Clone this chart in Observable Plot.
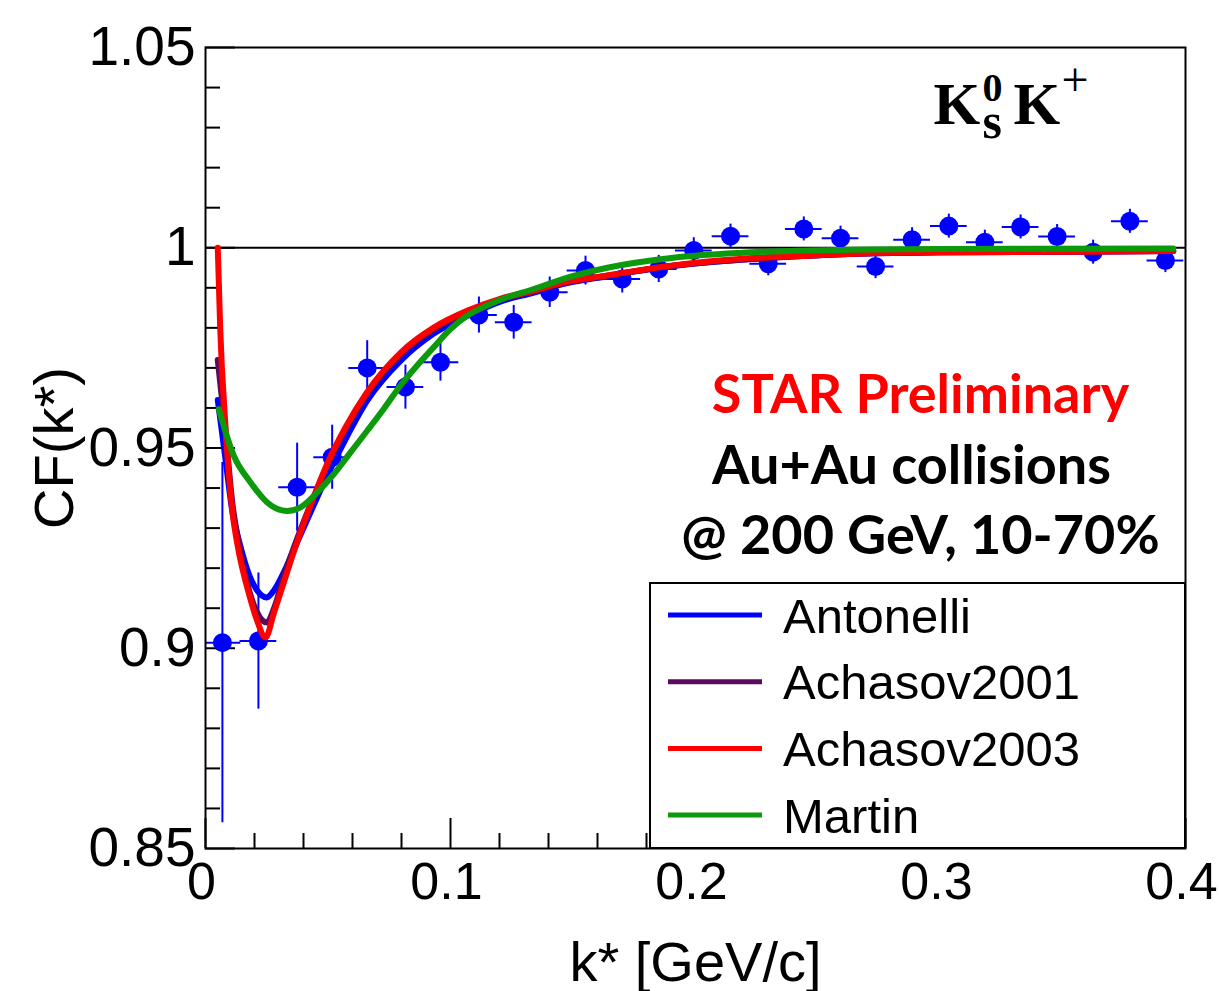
<!DOCTYPE html>
<html><head><meta charset="utf-8">
<script src="https://cdn.jsdelivr.net/npm/d3@7"></script>
<script src="https://cdn.jsdelivr.net/npm/@observablehq/plot@0.6"></script>
<style>html,body{margin:0;padding:0;background:#fff;overflow:hidden} svg{display:block}</style>
</head><body><div id="chart"></div>
<script>
// ---------- data ----------
const kData  = [0.0069, 0.0216, 0.0374, 0.0517, 0.0660, 0.0816, 0.0959, 0.1116, 0.1258, 0.1405, 0.1551, 0.1701, 0.1850, 0.1993, 0.2143, 0.2297, 0.2442, 0.2592, 0.2735, 0.2884, 0.3034, 0.3181, 0.3327, 0.3476, 0.3623, 0.3773, 0.3918];
const cfData = [0.9014, 0.9018, 0.9402, 0.9477, 0.9700, 0.9652, 0.9714, 0.9832, 0.9814, 0.9889, 0.9943, 0.9922, 0.9947, 0.9993, 1.0029, 0.9960, 1.0047, 1.0024, 0.9953, 1.0020, 1.0054, 1.0014, 1.0052, 1.0028, 0.9989, 1.0066, 0.9968];
const cfErr  = [0.045, 0.017, 0.011, 0.008, 0.0068, 0.0055, 0.0047, 0.0045, 0.0042, 0.0038, 0.0036, 0.0035, 0.0034, 0.0032, 0.0030, 0.0030, 0.0030, 0.0030, 0.0030, 0.0030, 0.0030, 0.0030, 0.0030, 0.0030, 0.0030, 0.0030, 0.0030];
const kHalfBin = 0.0075;

const kAntonelli  = [0.005, 0.008, 0.011, 0.014, 0.018, 0.021, 0.025, 0.028, 0.032, 0.036, 0.040, 0.044, 0.050, 0.057, 0.066, 0.080, 0.093, 0.107, 0.120, 0.134, 0.145, 0.164, 0.191, 0.218, 0.246, 0.273, 0.300, 0.350, 0.395];
const cfAntonelli = [0.962, 0.948, 0.934, 0.926, 0.918, 0.9145, 0.9127, 0.9145, 0.919, 0.9245, 0.930, 0.9355, 0.9435, 0.952, 0.9618, 0.972, 0.9785, 0.983, 0.9865, 0.9888, 0.9908, 0.9929, 0.9955, 0.997, 0.998, 0.9986, 0.9989, 0.999, 0.9992];

const kAchasov2001  = [0.005, 0.008, 0.011, 0.014, 0.018, 0.021, 0.025, 0.028, 0.032, 0.036, 0.040, 0.044, 0.050, 0.057, 0.066, 0.080, 0.093, 0.107, 0.120, 0.134, 0.145, 0.164, 0.191, 0.218, 0.246, 0.273, 0.300, 0.350, 0.395];
const cfAchasov2001 = [0.972, 0.955, 0.936, 0.925, 0.914, 0.909, 0.9064, 0.910, 0.918, 0.925, 0.9315, 0.9375, 0.946, 0.9545, 0.9635, 0.9735, 0.9795, 0.984, 0.987, 0.9891, 0.991, 0.993, 0.9955, 0.997, 0.998, 0.9986, 0.9989, 0.999, 0.9992];

const kAchasov2003  = [0.005, 0.0055, 0.006, 0.008, 0.011, 0.013, 0.018, 0.021, 0.0245, 0.028, 0.032, 0.036, 0.040, 0.044, 0.050, 0.057, 0.066, 0.080, 0.093, 0.107, 0.120, 0.134, 0.145, 0.164, 0.191, 0.218, 0.246, 0.273, 0.300, 0.350, 0.395];
const cfAchasov2003 = [1.000, 0.990, 0.980, 0.957, 0.934, 0.926, 0.913, 0.907, 0.9027, 0.909, 0.9165, 0.924, 0.931, 0.9375, 0.9465, 0.955, 0.964, 0.974, 0.980, 0.9843, 0.9872, 0.9893, 0.9912, 0.9931, 0.9956, 0.9972, 0.998, 0.9987, 0.9989, 0.999, 0.9992];

const kMartin  = [0.0054, 0.0116, 0.0184, 0.0252, 0.0333, 0.0388, 0.0456, 0.0524, 0.0592, 0.066, 0.0728, 0.0796, 0.0864, 0.0932, 0.100, 0.1068, 0.1136, 0.1204, 0.134, 0.1449, 0.164, 0.191, 0.218, 0.246, 0.300, 0.395];
const cfMartin = [0.9597, 0.948, 0.9414, 0.9364, 0.9343, 0.9352, 0.9389, 0.9435, 0.9489, 0.9543, 0.9598, 0.9656, 0.9706, 0.9752, 0.9797, 0.9830, 0.9852, 0.9870, 0.9897, 0.9920, 0.9950, 0.9975, 0.9987, 0.9993, 0.9997, 0.9998];

const modelNames  = ["Antonelli", "Achasov2001", "Achasov2003", "Martin"];
const modelColors = ["#0000ff", "#5c0a5c", "#ff0000", "#0c990c"];

const xMajorTicks = [0, 0.1, 0.2, 0.3, 0.4];
const xMinorTicks = [0.02, 0.04, 0.06, 0.08, 0.12, 0.14, 0.16, 0.18, 0.22, 0.24, 0.26, 0.28, 0.32, 0.34, 0.36, 0.38];
const yMajorTicks = [0.85, 0.9, 0.95, 1, 1.05];
const yMinorTicks = [0.86, 0.87, 0.88, 0.89, 0.91, 0.92, 0.93, 0.94, 0.96, 0.97, 0.98, 0.99, 1.01, 1.02, 1.03, 1.04];

const xTitle = "k* [GeV/c]";
const yTitle = "CF(k*)";

// ---------- build ----------
const W = 1219, H = 991, mL = 205, mR = 34, mT = 47, mB = 143;
const plotW = W - mL - mR, plotH = H - mT - mB;

const points = kData.map((k, i) => ({k, cf: cfData[i], err: cfErr[i]}));
const curves = [
  {name: modelNames[0], k: kAntonelli, cf: cfAntonelli},
  {name: modelNames[1], k: kAchasov2001, cf: cfAchasov2001},
  {name: modelNames[2], k: kAchasov2003, cf: cfAchasov2003},
  {name: modelNames[3], k: kMartin, cf: cfMartin}
];
const curveRows = curves.flatMap(c => c.k.map((k, i) => ({name: c.name, k, cf: c.cf[i]})));

const sans = "'Liberation Sans', Arial, Helvetica, sans-serif";
const serif = "'Liberation Serif', 'Times New Roman', serif";
const bold = "Lato, 'Open Sans', sans-serif";

const ann = (txt, dx, dy, fill) => Plot.text([txt], {text: d => d, frameAnchor: "top-right", textAnchor: "middle", lineAnchor: "middle", dx, dy, fontSize: 54, fontWeight: "bold", fontFamily: bold, fill});
const sym = (txt, dx, dy, size, weight) => Plot.text([txt], {text: d => d, frameAnchor: "top-right", textAnchor: "start", lineAnchor: "bottom", dx, dy, fontSize: size, fontWeight: weight, fontFamily: serif, fill: "black"});

const chart = Plot.plot({
  width: W, height: H,
  marginLeft: mL, marginRight: mR, marginTop: mT, marginBottom: mB,
  style: {fontFamily: sans, color: "black", background: "white"},
  x: {domain: [0, 0.4]},
  y: {domain: [0.85, 1.05]},
  color: {domain: modelNames, range: modelColors},
  marks: [
    Plot.ruleY([1], {stroke: "black", strokeWidth: 2}),
    Plot.tickY(yMinorTicks, {y: d => d, insetRight: plotW - 15, stroke: "black", strokeWidth: 2}),
    Plot.tickY(yMajorTicks, {y: d => d, insetRight: plotW - 30, stroke: "black", strokeWidth: 2}),
    Plot.tickX(xMinorTicks, {x: d => d, insetTop: plotH - 15, stroke: "black", strokeWidth: 2}),
    Plot.tickX(xMajorTicks, {x: d => d, insetTop: plotH - 30, stroke: "black", strokeWidth: 2}),
    Plot.axisY({ticks: yMajorTicks, tickSize: 0, tickPadding: 10, fontSize: 55, label: null, tickFormat: d => `${d}`}),
    Plot.axisX({ticks: xMajorTicks, tickSize: 0, tickPadding: 14, dx: -4, fontSize: 52, label: null, tickFormat: d => `${d}`}),
    Plot.ruleX(points, {x: "k", y1: d => d.cf - d.err, y2: d => d.cf + d.err, stroke: "#0000ff", strokeWidth: 2, clip: true}),
    Plot.ruleY(points, {y: "cf", x1: d => d.k - kHalfBin, x2: d => d.k + kHalfBin, stroke: "#0000ff", strokeWidth: 2, clip: true}),
    Plot.dot(points, {x: "k", y: "cf", r: 9.5, fill: "#0000ff", stroke: "none"}),
    Plot.line(curveRows, {x: "k", y: "cf", z: "name", stroke: "name", strokeWidth: 6, curve: "monotone-x", clip: true}),
    Plot.frame({stroke: "black", strokeWidth: 2}),
    // axis titles
    Plot.text([yTitle], {text: d => d, frameAnchor: "left", textAnchor: "middle", lineAnchor: "middle", rotate: -90, dx: -150, fontSize: 56, fill: "black"}),
    Plot.text([xTitle], {text: d => d, frameAnchor: "bottom", textAnchor: "middle", lineAnchor: "bottom", dy: 132, fontSize: 56, fill: "black"}),
    // annotations
    ann("STAR Preliminary", -265, 348, "#ff0000"),
    ann("Au+Au collisions", -274, 419, "black"),
    ann("@ 200 GeV, 10-70%", -265, 489, "black"),
    sym("K", -252, 76, 60, "bold"),
    sym("0", -203, 53, 40, "bold"),
    sym("s", -203, 90, 50, "bold"),
    sym("K", -172, 76, 60, "bold"),
    sym("+", -124, 48, 48, "normal")
  ]
});

// legend box (inside frame, bottom-right)
const svg = d3.select(chart);
const lg = svg.append("g").attr("text-anchor", "start");
lg.append("rect").attr("x", 650).attr("y", 583).attr("width", W - mR - 650).attr("height", H - mB - 583)
  .attr("fill", "white").attr("stroke", "black").attr("stroke-width", 2);
modelNames.forEach((n, i) => {
  const yy = 615 + i * 66.7;
  lg.append("line").attr("x1", 668).attr("x2", 762).attr("y1", yy).attr("y2", yy)
    .attr("stroke", modelColors[i]).attr("stroke-width", 5);
  lg.append("text").attr("x", 783).attr("y", yy).attr("dy", "0.36em").attr("text-anchor", "start")
    .attr("font-family", sans).attr("font-size", 49).attr("fill", "black").text(n);
});

document.getElementById("chart").append(chart);
</script>
</body></html>
